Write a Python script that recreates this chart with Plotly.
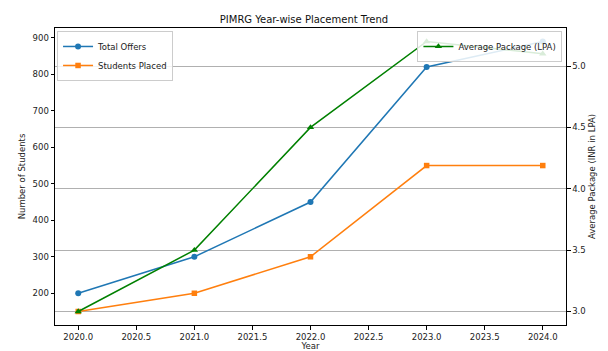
import plotly.graph_objects as go

years = [2020, 2021, 2022, 2023, 2024]
total_offers = [200, 300, 450, 820, 890]
students_placed = [150, 200, 300, 550, 550]
avg_package = [3.0, 3.5, 4.5, 5.2, 5.1]
x_tickvals = [2020.0, 2020.5, 2021.0, 2021.5, 2022.0, 2022.5, 2023.0, 2023.5, 2024.0]
x_ticktext = [f"{v:.1f}" for v in x_tickvals]
left_ticks = [200, 300, 400, 500, 600, 700, 800, 900]
right_ticks = [3.0, 3.5, 4.0, 4.5, 5.0]

FONT = "DejaVu Sans"
fig = go.Figure()
fig.add_trace(go.Scatter(x=years, y=total_offers, name="Total Offers", mode="lines+markers",
                         line=dict(color="#1f77b4", width=1.5),
                         marker=dict(symbol="circle", size=6, color="#1f77b4"), legend="legend"))
fig.add_trace(go.Scatter(x=years, y=students_placed, name="Students Placed", mode="lines+markers",
                         line=dict(color="#ff7f0e", width=1.5),
                         marker=dict(symbol="square", size=5.5, color="#ff7f0e"), legend="legend"))
fig.add_trace(go.Scatter(x=years, y=avg_package, name="Average Package (LPA)", mode="lines+markers",
                         line=dict(color="#008000", width=1.5),
                         marker=dict(symbol="triangle-up", size=6.5, color="#008000"),
                         yaxis="y2", legend="legend2"))

axis_common = dict(showline=True, linecolor="black", linewidth=1, ticks="outside",
                   ticklen=3.5, tickcolor="black", tickfont=dict(family=FONT, size=8.5, color="#222"),
                   zeroline=False, automargin=False)
fig.update_layout(
    width=608, height=351,
    margin=dict(l=55, r=42, t=28, b=26),
    paper_bgcolor="white", plot_bgcolor="white",
    font=dict(family=FONT, size=8.5, color="#222"),
    title=dict(text="PIMRG Year-wise Placement Trend", x=0.5, xanchor="center", y=0.945, yanchor="middle",
               font=dict(family=FONT, size=10, color="#111")),
    xaxis=dict(range=[2019.8, 2024.2], tickvals=x_tickvals, ticktext=x_ticktext, showgrid=False,
               mirror=True, title=dict(text="Year", font=dict(family=FONT, size=8.5), standoff=1),
               **axis_common),
    yaxis=dict(range=[113, 927], tickvals=left_ticks, showgrid=False,
               title=dict(text="Number of Students", font=dict(family=FONT, size=8.5), standoff=5),
               **axis_common),
    yaxis2=dict(range=[2.89, 5.31], tickvals=right_ticks, ticktext=[f"{v:.1f}" for v in right_ticks],
                overlaying="y", side="right", showgrid=True, gridcolor="#b0b0b0", gridwidth=1,
                title=dict(text="Average Package (INR in LPA)", font=dict(family=FONT, size=8.5), standoff=4),
                **axis_common),
    legend=dict(x=0.004, y=0.99, xanchor="left", yanchor="top", bgcolor="rgba(255,255,255,0.85)",
                bordercolor="#cccccc", borderwidth=1, font=dict(family=FONT, size=8.5),
                tracegroupgap=0, itemwidth=30),
    legend2=dict(x=0.993, y=0.99, xanchor="right", yanchor="top", bgcolor="rgba(255,255,255,0.85)",
                 bordercolor="#cccccc", borderwidth=1, font=dict(family=FONT, size=8.5), itemwidth=30),
)
fig.write_html("out.html")
